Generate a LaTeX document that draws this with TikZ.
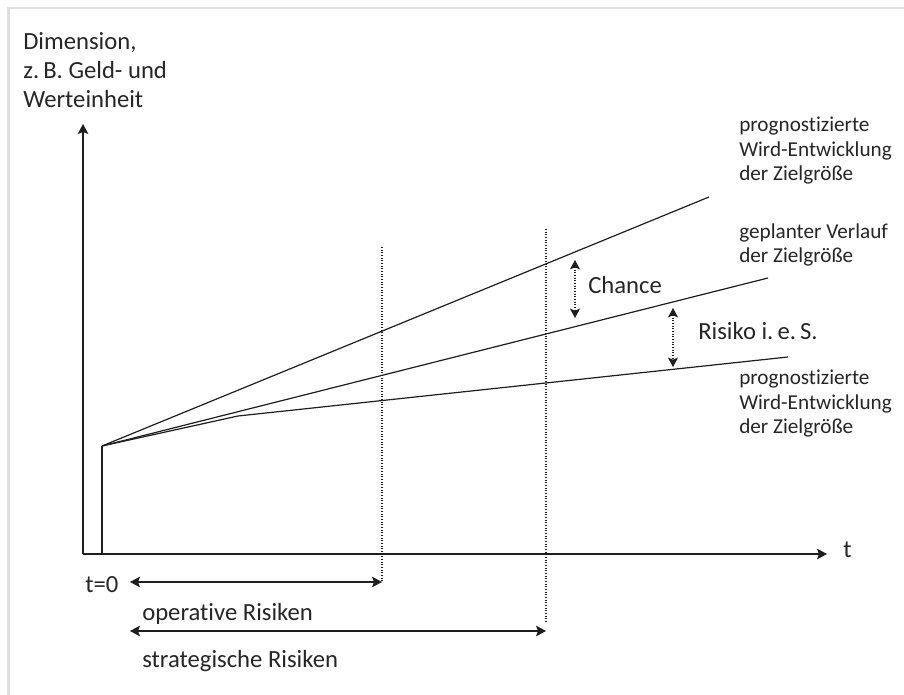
\documentclass[tikz,border=0pt]{standalone}
\usepackage{fontspec}
\setmainfont{Carlito}[Ligatures=NoCommon]
\usepackage{tikz}
\usetikzlibrary{arrows.meta,positioning}
\definecolor{txtgray}{HTML}{262626}
\definecolor{linegray}{HTML}{1E1E1E}
\definecolor{framegray}{HTML}{DEDEDE}

\begin{document}
\begin{tikzpicture}[
  x=0.75pt, y=-0.75pt,
  axis/.style   = {-{Stealth[length=7.5pt,width=8pt,inset=1.5pt]},
                   line width=0.9pt, draw=linegray},
  curve/.style  = {line width=0.9pt, draw=linegray},
  guide/.style  = {line width=0.8pt, draw=linegray,
                   dash pattern=on 0.8pt off 1.2pt},
  span/.style   = {{Stealth[length=7.5pt,width=8pt,inset=1.5pt]}-{Stealth[length=7.5pt,width=8pt,inset=1.5pt]},
                   line width=0.9pt, draw=linegray},
  gap/.style    = {{Stealth[length=7pt,width=7.5pt,inset=1.5pt]}-{Stealth[length=7pt,width=7.5pt,inset=1.5pt]},
                   line width=0.8pt, draw=linegray,
                   dash pattern=on 0.8pt off 1.2pt},
  lbl/.style    = {text=txtgray, inner sep=0pt, align=left,
                   font=\fontsize{18.5}{21.75}\selectfont},
  slbl/.style   = {text=txtgray, inner sep=0pt, align=left,
                   font=\fontsize{15.9}{18.4}\selectfont},
]
\useasboundingbox (0,0) rectangle (904,695);
\fill[white] (0,0) rectangle (904,695);
\draw[framegray, line width=2.2pt] (8.5,695) |- (904,8);

% axes
\coordinate (O)    at (83,554);
\coordinate (ytip) at (83,124);
\coordinate (xtip) at (827,554);
\draw[axis] (O) -- (ytip);
\draw[axis] (O) -- (xtip);
\node[lbl, anchor=base west] (ylab) at (23,108)
    {Dimension,\\z.\,B. Geld- und\\Werteinheit};
\node[lbl, anchor=base west] (xlab) at (843,557) {t};

% start value and the three courses
\coordinate (t0)   at (102,554);
\coordinate (S)    at (102,446);
\coordinate (best) at (709,197);
\coordinate (plan) at (768,278);
\coordinate (kink) at (238,416);
\coordinate (real) at (788,357);
\draw[curve] (t0) -- (S);
\draw[curve] (S) -- (best);
\draw[curve] (S) -- (plan);
\draw[curve] (S) -- (kink) -- (real);

\node[slbl, anchor=base west] (bestlab) at (739,181)
    {prognostizierte\\Wird-Entwicklung\\der Zielgröße};
\node[slbl, anchor=base west] (planlab) at (739,263)
    {geplanter Verlauf\\der Zielgröße};
\node[slbl, anchor=base west] (reallab) at (739,434)
    {prognostizierte\\Wird-Entwicklung\\der Zielgröße};

% chance and risk
\coordinate (ch1) at (575,260);
\coordinate (ch2) at (575,318);
\coordinate (ri1) at (673,308);
\coordinate (ri2) at (673,367);
\draw[gap] (ch1) -- (ch2);
\draw[gap] (ri1) -- (ri2);
\node[lbl, anchor=base west] (chlab) at (588,294) {Chance};
\node[lbl, anchor=base west] (rilab) at (698,340) {Risiko i.\,e.\,S.};

% planning horizons
\coordinate (h1top) at (382,247);
\coordinate (h1bot) at (382,582);
\coordinate (h2top) at (546,229);
\coordinate (h2bot) at (546,623);
\coordinate (op0)   at (130,582);
\coordinate (st0)   at (130,631);
\coordinate (st1)   at (546,631);
\draw[guide] (h1top) -- (h1bot);
\draw[guide] (h2top) -- (h2bot);
\draw[span] (op0) -- (h1bot);
\draw[span] (st0) -- (st1);
\node[lbl, anchor=base west] (t0lab) at (85,592) {t=0};
\node[lbl, anchor=base west] (oplab) at (142,620) {operative Risiken};
\node[lbl, anchor=base west] (stlab) at (142,667) {strategische Risiken};
\end{tikzpicture}
\end{document}
